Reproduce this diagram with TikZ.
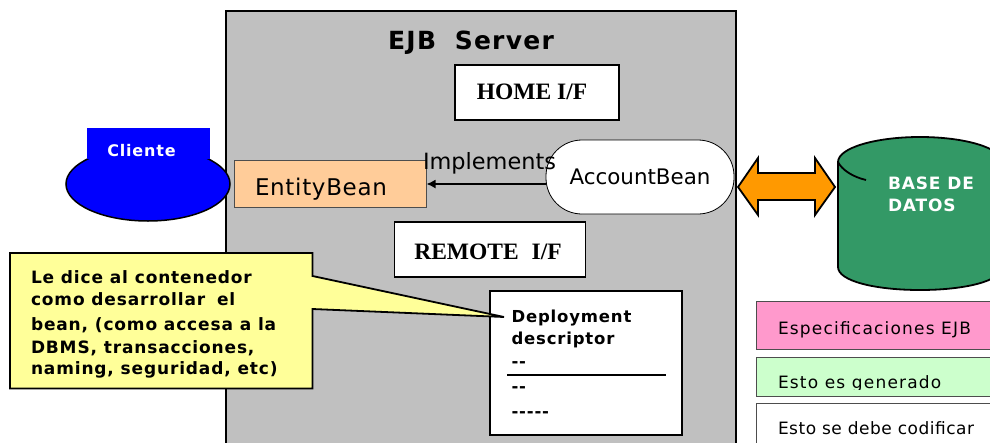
\documentclass[tikz,border=0pt]{standalone}
\usepackage{fontspec}
\setmainfont{DejaVu Sans}
\newfontfamily\serifbold{Liberation Serif}
\newfontfamily\spthree[LetterSpace=3]{DejaVu Sans}
\newfontfamily\spfive[LetterSpace=5]{DejaVu Sans}
\newfontfamily\spseven[LetterSpace=7]{DejaVu Sans}
\usetikzlibrary{arrows.meta,shapes.geometric}
\definecolor{srv}{HTML}{C0C0C0}
\definecolor{peach}{HTML}{FFCC99}
\definecolor{dbgreen}{HTML}{339966}
\definecolor{noteyellow}{HTML}{FFFF99}
\definecolor{pinkbox}{HTML}{FF99CC}
\definecolor{greenbox}{HTML}{CCFFCC}
\definecolor{edgegray}{HTML}{4D4D4D}
\definecolor{arrorange}{HTML}{FF9900}
\tikzset{
  every node/.style={outer sep=0pt},
  box/.style={draw=black,line width=1.8pt,fill=white,inner sep=0pt,anchor=north west},
  graybox/.style={draw=edgegray,line width=1.8pt,inner sep=0pt,anchor=north west},
  lab/.style={inner sep=0pt,anchor=base west,text=black},
  ctr/.style={inner sep=0pt,anchor=base},
  hdg/.style={ctr,font=\serifbold\bfseries\fontsize{23.5}{23.5}\selectfont},
  small/.style={lab,font=\spfive\bfseries\fontsize{16.5}{16.5}\selectfont},
  note/.style={lab,font=\spfive\bfseries\fontsize{17}{17}\selectfont},
}
\begin{document}
\begin{tikzpicture}[x=1pt,y=-1pt]
\clip (0,0) rectangle (990,442);
\fill[white] (0,0) rectangle (990,442);
% server
\node[graybox,draw=black,fill=srv,minimum width=510pt,minimum height=450pt] (server) at (226,11) {};
\node[ctr,font=\spfive\bfseries\fontsize{25}{25}\selectfont] (servertitle) at (471,49) {EJB\hspace{0.35em} Server};
\node[box,minimum width=164pt,minimum height=55pt] (home) at (455,65) {};
\node[hdg] (hometext) at (532,99) {HOME I/F};
% client
\node[draw=black,line width=1.5pt,fill=blue,ellipse,minimum width=164pt,minimum height=74pt,inner sep=0pt] (clientshape) at (148,184) {};
\fill[blue] (87,128) rectangle (210,159);
\node[ctr,text=white,font=\spfive\bfseries\fontsize{16}{16}\selectfont] (clientlabel) at (141.5,156.7) {Cliente};
% beans
\node[graybox,fill=peach,minimum width=192pt,minimum height=47pt] (entity) at (234.5,160.5) {};
\node[lab,font=\spthree\fontsize{23}{23}\selectfont] (entitytext) at (255,195) {EntityBean};
\node[draw=black,line width=0.8pt,fill=white,rounded corners=36pt,minimum width=188pt,minimum height=74pt,inner sep=0pt] (account) at (640,177) {};
\node[ctr,font=\fontsize{21.4}{21.4}\selectfont] (accounttext) at (640,184) {AccountBean};
\draw[line width=1.5pt,-{Latex[length=9pt,width=9pt]}] (account.west |- entity.east) -- (entity.east);
\node[ctr,font=\fontsize{22.4}{22.4}\selectfont] (implements) at (489.5,169) {Implements};
\node[box,minimum width=191pt,minimum height=55pt] (remote) at (394.5,222) {};
\node[hdg] (remotetext) at (488,259) {REMOTE\hspace{0.3em} I/F};
% deployment
\node[box,minimum width=192pt,minimum height=144pt] (deploy) at (490,291) {};
\node[small] (d1) at (511.5,322) {Deployment};
\node[small] (d2) at (511.5,344) {descriptor};
\node[small] (d3) at (511.5,367) {{-}{-}};
\node[small] (d4) at (511.5,392) {{-}{-}};
\node[small] (d5) at (511.5,417) {{-}{-}{-}{-}{-}};
\coordinate (ruleL) at (507,375);
\coordinate (ruleR) at (666,375);
\draw[line width=1.5pt] (ruleL) -- (ruleR);
% callout
\coordinate (tip) at (504,317);
\draw[line width=1.8pt,fill=noteyellow,line join=miter] (10,253) -- (312.5,253) -- (312.5,276) -- (tip) -- (312.5,309) -- (312.5,388.5) -- (10,388.5) -- cycle;
\node[note] (n1) at (31,283.5) {Le dice al contenedor};
\node[note] (n2) at (31,305) {como desarrollar\hspace{0.3em} el};
\node[note] (n3) at (31,330) {bean, (como accesa a la};
\node[note] (n4) at (31,353) {DBMS, transacciones,};
\node[note] (n5) at (31,374) {naming, seguridad, etc)};
% double arrow
\draw[line width=1.8pt,fill=arrorange,line join=miter] (738,187) -- (758,158) -- (758,173) -- (815,173) -- (815,158) -- (835,187) -- (815,215) -- (815,200) -- (758,200) -- (758,215) -- cycle;
% database
\draw[line width=1.8pt,fill=dbgreen] (838,162) -- (838,267) .. controls (838,281) and (875,290) .. (920,290) .. controls (965,290) and (1002,281) .. (1002,267) -- (1002,162) .. controls (1002,148) and (965,137) .. (920,137) .. controls (875,137) and (838,148) .. (838,162) .. controls (842,170) and (853,177) .. (866,180);
\node[lab,text=white,font=\spfive\bfseries\fontsize{17}{17}\selectfont] (db1) at (888,189) {BASE DE};
\node[lab,text=white,font=\spfive\bfseries\fontsize{17}{17}\selectfont] (db2) at (888,211) {DATOS};
% legend
\node[graybox,fill=pinkbox,minimum width=260pt,minimum height=48pt] (pink) at (756.5,301.5) {};
\node[lab,font=\spseven\fontsize{17}{17}\selectfont] (pinktext) at (778,334) {Especificaciones EJB};
\node[graybox,fill=greenbox,minimum width=260pt,minimum height=39pt] (green) at (756.5,357.5) {};
\begin{scope}
\clip (770,365) rectangle (980,389);
\node[lab,font=\spseven\fontsize{17}{17}\selectfont] (greentext) at (778,388) {Esto es generado};
\end{scope}
\node[graybox,fill=white,minimum width=260pt,minimum height=60pt] (white) at (756.5,403.5) {};
\node[lab,font=\spthree\fontsize{17}{17}\selectfont] (whitetext) at (778,434) {Esto se debe codificar};
\end{tikzpicture}
\end{document}
